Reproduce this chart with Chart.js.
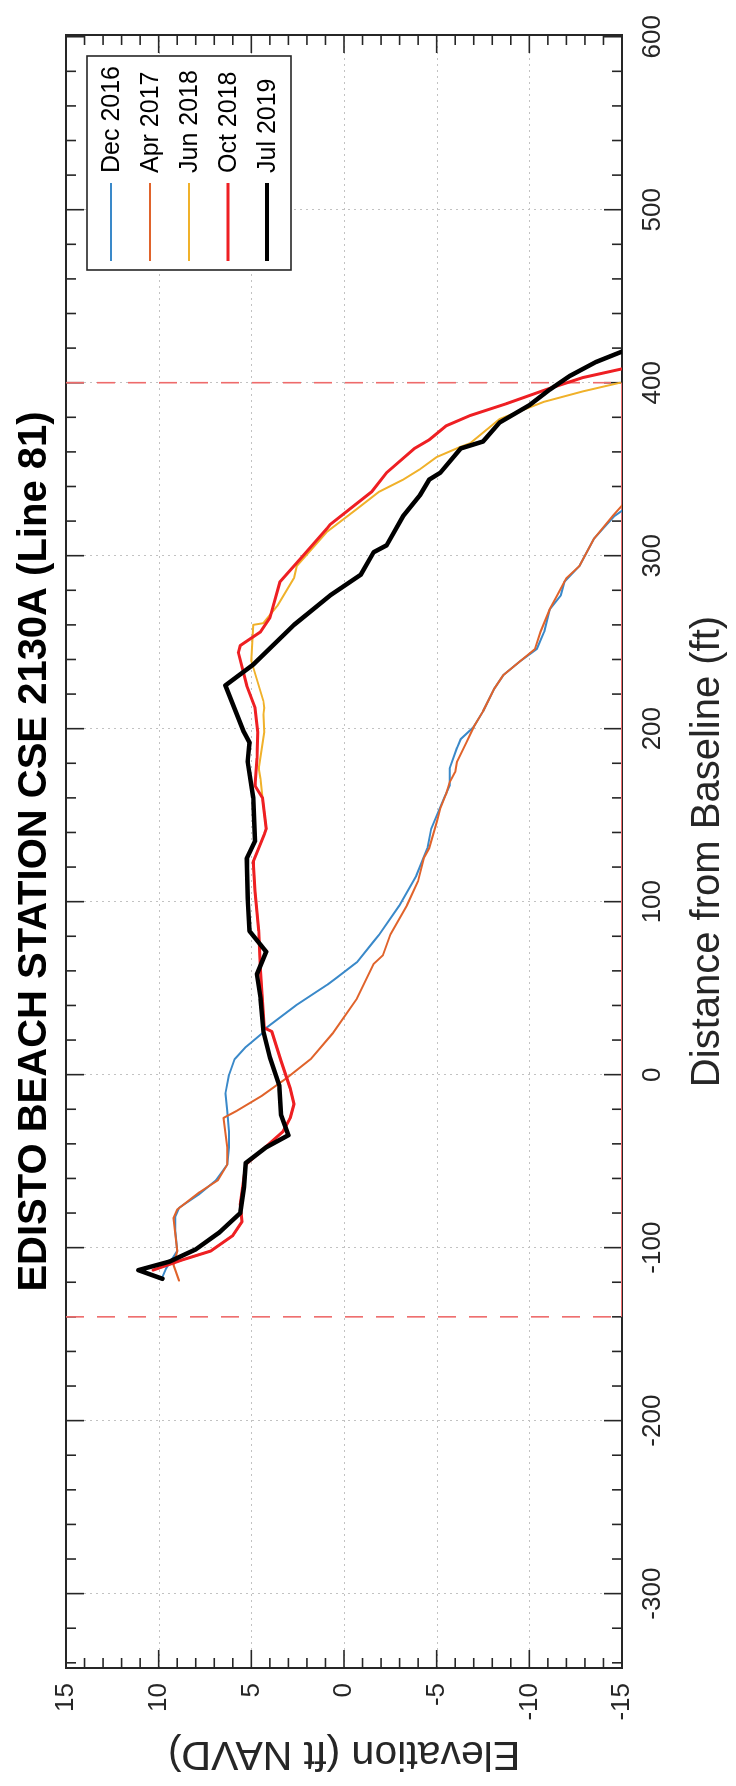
<!DOCTYPE html>
<html>
<head>
<meta charset="utf-8">
<title>Edisto Beach Station CSE 2130A (Line 81)</title>
<script src="https://cdn.jsdelivr.net/npm/chart.js@4.4.1/dist/chart.umd.min.js"></script>
<style>
  html, body { margin: 0; padding: 0; background: #fff; overflow: hidden; }
  body { width: 736px; height: 1786px; position: relative; }
  /* chart is drawn landscape, then turned a quarter turn counter-clockwise */
  #wrap {
    position: absolute; left: 0; top: 0;
    width: 1786px; height: 736px;
    transform-origin: 0 0;
    transform: translateY(1786px) rotate(-90deg);
  }
  canvas { display: block; }
</style>
</head>
<body>
<div id="wrap"><canvas id="profileChart" width="1786" height="736"></canvas></div>
<script>
// === Survey profiles: distance from baseline (ft) / elevation (ft NAVD) ===
const dec2016Dist = [-117, -112, -102, -90, -82, -77, -69, -61, -52, -42, -33, -21, -11, 0, 9, 16, 24, 27, 40, 52, 56, 65, 77, 81, 98, 115, 131, 142, 160, 167, 177, 189, 194, 201, 210, 223, 231, 239, 246, 256, 269, 277, 285, 294, 310, 316, 323, 326];
const dec2016Elev = [9.8, 9.6, 9.0, 9.1, 9.1, 8.9, 7.8, 6.9, 6.3, 6.2, 6.2, 6.3, 6.4, 6.2, 5.9, 5.3, 4.4, 4.2, 2.6, 0.9, 0.4, -0.7, -1.6, -1.9, -3.0, -3.9, -4.5, -4.7, -5.4, -5.7, -5.7, -6.1, -6.3, -7.0, -7.5, -8.1, -8.6, -9.5, -10.4, -10.8, -11.1, -11.7, -11.9, -12.7, -13.5, -14.0, -14.6, -15.0];

const apr2017Dist = [-119, -110, -102, -83, -78, -68, -61, -52, -42, -25, -21, -12, -2, 9, 24, 44, 64, 69, 81, 98, 112, 125, 131, 146, 154, 162, 169, 175, 181, 192, 201, 210, 223, 231, 239, 246, 256, 269, 277, 283, 287, 294, 310, 323, 329];
const apr2017Elev = [8.9, 9.2, 9.0, 9.2, 9.0, 7.8, 6.8, 6.3, 6.3, 6.5, 5.8, 4.4, 3.1, 1.8, 0.6, -0.7, -1.6, -2.1, -2.5, -3.4, -4.0, -4.3, -4.6, -5.0, -5.2, -5.5, -5.7, -6.0, -6.1, -6.6, -7.0, -7.5, -8.1, -8.6, -9.5, -10.3, -10.6, -11.1, -11.5, -11.8, -12.0, -12.7, -13.5, -14.5, -15.0];

const jun2018Dist = [-113, -107, -102, -93, -85, -75, -52, -33, -25, -17, -8, 8, 25, 27, 60, 83, 106, 123, 139, 142, 160, 171, 177, 198, 208, 212, 216, 239, 260, 261, 271, 287, 294, 314, 327, 337, 344, 350, 357, 363, 365, 379, 389, 395, 400];
const jun2018Elev = [10.3, 8.7, 7.2, 6.0, 5.5, 5.6, 5.3, 3.3, 2.9, 2.7, 2.9, 3.4, 3.9, 4.3, 4.5, 4.6, 4.8, 4.9, 4.3, 4.2, 4.4, 4.5, 4.6, 4.3, 4.35, 4.3, 4.35, 5.0, 4.9, 4.35, 3.6, 2.7, 2.55, 0.9, -0.7, -1.9, -3.2, -4.1, -5.0, -6.3, -6.8, -8.4, -10.8, -12.9, -14.9];

const oct2018Dist = [-113, -107, -102, -93, -85, -75, -52, -33, -25, -17, -8, 8, 25, 27, 60, 83, 106, 123, 139, 142, 160, 167, 183, 198, 212, 225, 244, 248, 256, 264, 285, 300, 316, 318, 337, 348, 362, 367, 375, 381, 388, 396, 403, 408];
const oct2018Elev = [10.3, 8.7, 7.2, 6.0, 5.5, 5.6, 5.3, 3.3, 2.9, 2.7, 2.9, 3.4, 3.9, 4.3, 4.5, 4.6, 4.8, 4.9, 4.3, 4.2, 4.4, 4.8, 4.7, 4.65, 4.8, 5.25, 5.7, 5.6, 4.5, 4.0, 3.45, 2.2, 0.9, 0.75, -1.5, -2.3, -3.8, -4.6, -5.5, -6.8, -8.8, -10.9, -12.9, -15.0];

const jul2019Dist = [-118, -113, -108, -101, -91, -80, -65, -51, -42, -35, -23, -6, 10, 25, 44, 58, 71, 83, 102, 125, 135, 160, 181, 192, 198, 225, 237, 260, 277, 289, 302, 306, 323, 335, 344, 348, 362, 366, 377, 387, 396, 404, 412, 418];
const jul2019Elev = [9.8, 11.1, 9.4, 8.0, 6.7, 5.6, 5.4, 5.3, 4.2, 3.0, 3.4, 3.5, 4.0, 4.35, 4.5, 4.7, 4.2, 5.1, 5.2, 5.25, 4.8, 4.9, 5.2, 5.1, 5.4, 6.4, 4.9, 2.7, 0.75, -0.9, -1.6, -2.3, -3.2, -4.1, -4.6, -5.2, -6.3, -7.5, -8.4, -10.0, -11.1, -12.2, -13.6, -15.0];

// survey limits (red dashed)
const limitDist = [-140, 400];

// axes
const distTicks = [-300, -200, -100, 0, 100, 200, 300, 400, 500, 600];
const elevTicks = [-15, -10, -5, 0, 5, 10, 15];
const distMin = -343;
const distMax = 601;

const FONT = "'Liberation Sans', Arial, Helvetica, sans-serif";
const AXIS_COLOR = "#262626";
const TITLE = "EDISTO BEACH STATION CSE 2130A (Line 81)";

const toPoints = (xs, ys) => xs.map((x, i) => ({ x, y: ys[i] }));

const profile = (label, xs, ys, color, width, order) => ({
  label,
  data: toPoints(xs, ys),
  borderColor: color,
  backgroundColor: color,
  borderWidth: width,
  borderJoinStyle: "round",
  borderCapStyle: "round",
  showLine: true,
  pointRadius: 0,
  inLegend: true,
  order,
});

const limitLine = (pts, dashed) => ({
  label: "",
  data: pts,
  borderColor: "#ee6b6b",
  borderWidth: dashed ? 1.6 : 2,
  borderDash: dashed ? [18, 13] : [],
  showLine: true,
  pointRadius: 0,
  inLegend: false,
  order: 20,
});

// === Grid, inward ticks and box, MATLAB style ===
const axesPlugin = {
  id: "boxAxes",
  beforeDatasetsDraw(chart) {
    const { ctx, chartArea: a, scales: { x, y } } = chart;
    const seg = (x1, y1, x2, y2) => { ctx.beginPath(); ctx.moveTo(x1, y1); ctx.lineTo(x2, y2); ctx.stroke(); };
    ctx.save();

    // dotted grid
    ctx.strokeStyle = "#c2c2c2";
    ctx.lineWidth = 1;
    ctx.setLineDash([2, 4]);
    distTicks.forEach((d) => {
      const px = Math.round(x.getPixelForValue(d)) + 0.5;
      if (px > a.left + 2 && px < a.right - 2) seg(px, a.top, px, a.bottom);
    });
    elevTicks.forEach((e) => {
      const py = Math.round(y.getPixelForValue(e)) + 0.5;
      if (py > a.top + 2 && py < a.bottom - 2) seg(a.left, py, a.right, py);
    });
    ctx.setLineDash([]);

    // ticks on all four sides, pointing in
    ctx.strokeStyle = AXIS_COLOR;
    ctx.lineWidth = 1.6;
    for (let d = Math.ceil(distMin / 20) * 20; d <= distMax; d += 20) {
      const px = x.getPixelForValue(d);
      const len = d % 100 === 0 ? 18 : 10;
      seg(px, a.bottom, px, a.bottom - len);
      seg(px, a.top, px, a.top + len);
    }
    for (let e = -14; e <= 14; e++) {
      const py = y.getPixelForValue(e);
      const len = e % 5 === 0 ? 18 : 10;
      seg(a.left, py, a.left + len, py);
      seg(a.right, py, a.right - len, py);
    }

    // box
    ctx.lineWidth = 2;
    ctx.strokeRect(a.left, a.top, a.right - a.left, a.bottom - a.top);
    ctx.restore();
  },
  afterDraw(chart) {
    const { ctx, chartArea: a } = chart;
    ctx.save();

    // title
    ctx.fillStyle = "#000";
    ctx.font = `bold 40px ${FONT}`;
    ctx.textAlign = "center";
    ctx.textBaseline = "middle";
    ctx.fillText(TITLE, (a.left + a.right) / 2, 35);

    // legend box, top right inside the axes
    const items = chart.data.datasets.filter((ds) => ds.inLegend);
    const bw = 214, bh = 204;
    const bx = a.right - 21 - bw;
    const by = a.top + 21;
    ctx.fillStyle = "#fff";
    ctx.fillRect(bx, by, bw, bh);
    ctx.strokeStyle = AXIS_COLOR;
    ctx.lineWidth = 1.6;
    ctx.strokeRect(bx, by, bw, bh);

    ctx.font = `25px ${FONT}`;
    ctx.textAlign = "left";
    items.forEach((ds, i) => {
      const ry = by + 24 + i * 39;
      ctx.strokeStyle = ds.borderColor;
      ctx.lineWidth = Math.min(ds.borderWidth, 4);
      ctx.beginPath();
      ctx.moveTo(bx + 9, ry);
      ctx.lineTo(bx + 87, ry);
      ctx.stroke();
      ctx.fillStyle = "#000";
      ctx.fillText(ds.label, bx + 97, ry + 1);
    });
    ctx.restore();
  },
};

const ctx = document.getElementById("profileChart").getContext("2d");

new Chart(ctx, {
  type: "scatter",
  data: {
    datasets: [
      profile("Dec 2016", dec2016Dist, dec2016Elev, "#3a89c9", 2, 5),
      profile("Apr 2017", apr2017Dist, apr2017Elev, "#e0632b", 2, 4),
      profile("Jun 2018", jun2018Dist, jun2018Elev, "#f0b12a", 2, 3),
      profile("Oct 2018", oct2018Dist, oct2018Elev, "#ee1f23", 3, 2),
      profile("Jul 2019", jul2019Dist, jul2019Elev, "#000000", 4.5, 1),
      limitLine([{ x: limitDist[0], y: 15 }, { x: limitDist[0], y: -15 }], true),
      limitLine([{ x: limitDist[1], y: 15 }, { x: limitDist[1], y: -15 }], true),
      limitLine([{ x: limitDist[0], y: -15 }, { x: limitDist[1], y: -15 }], false),
    ],
  },
  options: {
    responsive: false,
    animation: false,
    devicePixelRatio: 1,
    layout: { padding: { left: 0, right: 32, top: 66, bottom: 0 } },
    plugins: {
      legend: { display: false },
      tooltip: { enabled: false },
    },
    scales: {
      x: {
        type: "linear",
        position: "bottom",
        min: distMin,
        max: distMax,
        afterBuildTicks: (s) => { s.ticks = distTicks.map((v) => ({ value: v })); },
        afterFit: (s) => { s.height = 114; },
        grid: { display: false, drawTicks: false },
        border: { display: false },
        ticks: {
          color: AXIS_COLOR,
          font: { family: FONT, size: 26 },
          padding: 15,
          maxRotation: 0,
          autoSkip: false,
        },
        title: {
          display: true,
          text: "Distance from Baseline (ft)",
          color: AXIS_COLOR,
          font: { family: FONT, size: 40 },
          padding: { top: 0, bottom: 4 },
        },
      },
      y: {
        type: "linear",
        position: "left",
        min: -15,
        max: 15,
        afterBuildTicks: (s) => { s.ticks = elevTicks.map((v) => ({ value: v })); },
        afterFit: (s) => { s.width = 118; },
        grid: { display: false, drawTicks: false },
        border: { display: false },
        ticks: {
          color: AXIS_COLOR,
          font: { family: FONT, size: 26 },
          padding: 15,
          autoSkip: false,
        },
        title: {
          display: true,
          text: "Elevation (ft NAVD)",
          color: AXIS_COLOR,
          font: { family: FONT, size: 41 },
          padding: { top: 8, bottom: 0 },
        },
      },
    },
  },
  plugins: [axesPlugin],
});
</script>
</body>
</html>
